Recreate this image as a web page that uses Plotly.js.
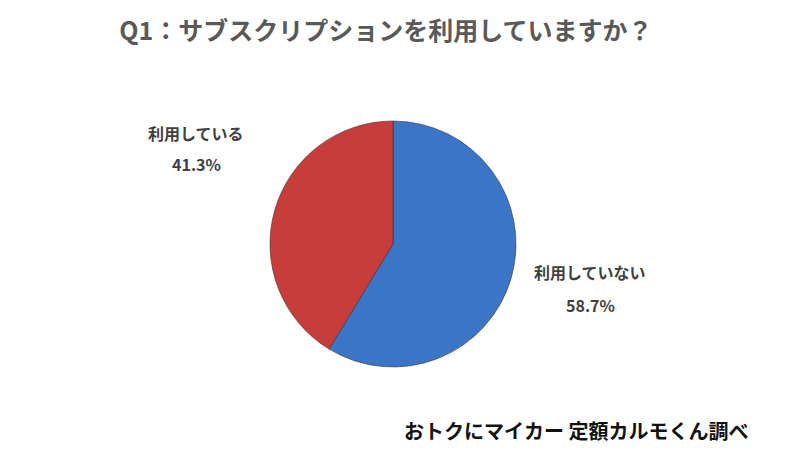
<!DOCTYPE html>
<html>
<head>
<meta charset="utf-8">
<script src="https://cdn.plot.ly/plotly-3.0.1.min.js"></script>
<style>
  html, body { margin: 0; padding: 0; background: #fff; }
  #chart { width: 800px; height: 452px; }
</style>
</head>
<body>
<div id="chart"></div>
<script>
const answers = ['利用していない', '利用している'];
const shares = [58.7, 41.3];
const sliceColors = ['#3b76c6', '#c73d3b'];
const titleText = 'Q1：サブスクリプションを利用していますか？';
const sourceText = 'おトクにマイカー 定額カルモくん調べ';

const font = '"Noto Sans CJK JP", "Noto Sans", sans-serif';

// label centres in pixels for each slice: name line, percent line
const labelPos = [
    { x: 590, yName: 272, yPct: 305 },
    { x: 196, yName: 133, yPct: 164 }
];

const trace = {
    type: 'pie',
    labels: answers,
    values: shares,
    sort: false,
    direction: 'clockwise',
    rotation: 0,
    textinfo: 'none',
    hoverinfo: 'label+percent',
    marker: {
        colors: sliceColors,
        line: { color: 'rgba(60,40,40,0.55)', width: 1 }
    },
    domain: { x: [270 / 800, 516 / 800], y: [1 - 367 / 452, 1 - 121 / 452] }
};

function note(text, px, py, size, color) {
    return {
        xref: 'paper', yref: 'paper',
        x: px / 800, y: 1 - py / 452,
        xanchor: 'center', yanchor: 'middle',
        showarrow: false,
        text: '<b>' + text + '</b>',
        font: { family: font, size: size, color: color }
    };
}

const annotations = [];
answers.forEach((name, i) => {
    annotations.push(note(name, labelPos[i].x, labelPos[i].yName, 16, '#404040'));
    annotations.push(note(shares[i].toFixed(1) + '%', labelPos[i].x, labelPos[i].yPct, 16, '#404040'));
});
annotations.push(note(sourceText, 576, 430, 20, '#111111'));

const layout = {
    width: 800,
    height: 452,
    margin: { l: 0, r: 0, t: 0, b: 0 },
    paper_bgcolor: '#ffffff',
    showlegend: false,
    title: {
        text: '<b>' + titleText + '</b>',
        x: 386 / 800, xanchor: 'center',
        y: 1 - 31 / 452, yanchor: 'middle',
        font: { family: font, size: 25, color: '#595959' }
    },
    annotations: annotations
};

Plotly.newPlot('chart', [trace], layout, { displayModeBar: false, staticPlot: true });
</script>
</body>
</html>
